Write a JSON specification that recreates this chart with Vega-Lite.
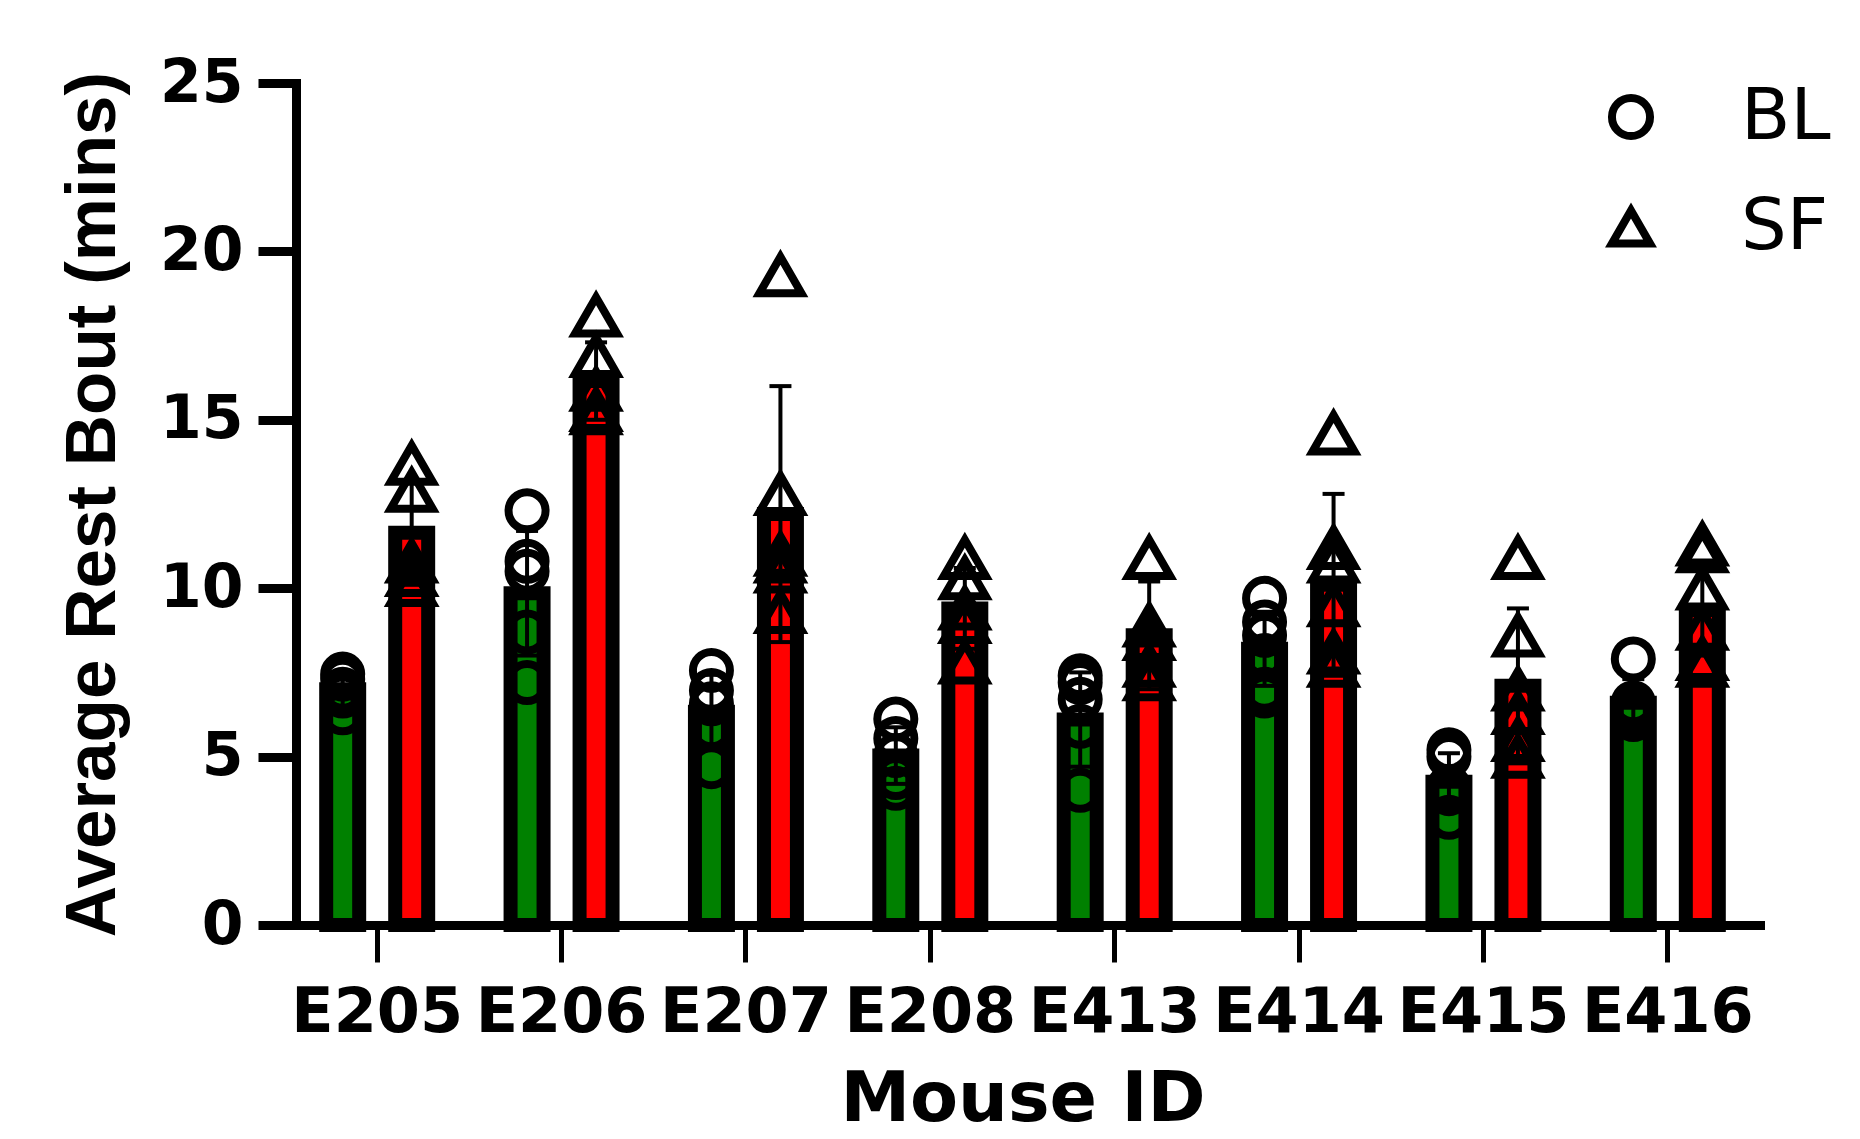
{
  "$schema": "https://vega.github.io/schema/vega-lite/v6.json",
  "autosize": {"type": "none"},
  "width": 1475,
  "height": 842,
  "padding": {"left": 285, "top": 83, "right": 100, "bottom": 214},
  "background": "white",
  "config": {"view": {"stroke": null}, "font": "DejaVu Sans"},
  "datasets": {
    "summary": [
      {"mouse": "E205", "cond": "BL", "mean": 7.0, "lower": 6.5, "upper": 7.5},
      {"mouse": "E205", "cond": "SF", "mean": 11.65, "lower": 10.1, "upper": 13.2},
      {"mouse": "E206", "cond": "BL", "mean": 9.85, "lower": 8.0, "upper": 11.7},
      {"mouse": "E206", "cond": "SF", "mean": 16.15, "lower": 15.0, "upper": 17.3},
      {"mouse": "E207", "cond": "BL", "mean": 6.33, "lower": 5.23, "upper": 7.43},
      {"mouse": "E207", "cond": "SF", "mean": 12.2, "lower": 8.4, "upper": 16.0},
      {"mouse": "E208", "cond": "BL", "mean": 5.03, "lower": 4.19, "upper": 5.87},
      {"mouse": "E208", "cond": "SF", "mean": 9.4, "lower": 8.2, "upper": 10.6},
      {"mouse": "E413", "cond": "BL", "mean": 6.1, "lower": 4.7, "upper": 7.5},
      {"mouse": "E413", "cond": "SF", "mean": 8.6, "lower": 7.0, "upper": 10.2},
      {"mouse": "E414", "cond": "BL", "mean": 8.2, "lower": 7.1, "upper": 9.3},
      {"mouse": "E414", "cond": "SF", "mean": 10.1, "lower": 7.4, "upper": 12.8},
      {"mouse": "E415", "cond": "BL", "mean": 4.25, "lower": 3.4, "upper": 5.1},
      {"mouse": "E415", "cond": "SF", "mean": 7.1, "lower": 4.8, "upper": 9.4},
      {"mouse": "E416", "cond": "BL", "mean": 6.6, "lower": 5.9, "upper": 7.3},
      {"mouse": "E416", "cond": "SF", "mean": 9.35, "lower": 8.0, "upper": 10.7}
    ],
    "points": [
      {"mouse": "E205", "cond": "BL", "value": 7.45},
      {"mouse": "E205", "cond": "BL", "value": 7.3},
      {"mouse": "E205", "cond": "BL", "value": 7.0},
      {"mouse": "E205", "cond": "BL", "value": 6.8},
      {"mouse": "E205", "cond": "BL", "value": 6.3},
      {"mouse": "E205", "cond": "SF", "value": 13.7},
      {"mouse": "E205", "cond": "SF", "value": 12.9},
      {"mouse": "E205", "cond": "SF", "value": 10.8},
      {"mouse": "E205", "cond": "SF", "value": 10.4},
      {"mouse": "E205", "cond": "SF", "value": 10.1},
      {"mouse": "E206", "cond": "BL", "value": 12.3},
      {"mouse": "E206", "cond": "BL", "value": 10.8},
      {"mouse": "E206", "cond": "BL", "value": 10.5},
      {"mouse": "E206", "cond": "BL", "value": 8.7},
      {"mouse": "E206", "cond": "BL", "value": 7.2},
      {"mouse": "E206", "cond": "SF", "value": 18.1},
      {"mouse": "E206", "cond": "SF", "value": 16.9},
      {"mouse": "E206", "cond": "SF", "value": 15.9},
      {"mouse": "E206", "cond": "SF", "value": 15.3},
      {"mouse": "E206", "cond": "SF", "value": 15.2},
      {"mouse": "E207", "cond": "BL", "value": 7.56},
      {"mouse": "E207", "cond": "BL", "value": 6.96},
      {"mouse": "E207", "cond": "BL", "value": 6.57},
      {"mouse": "E207", "cond": "BL", "value": 5.86},
      {"mouse": "E207", "cond": "BL", "value": 4.7},
      {"mouse": "E207", "cond": "SF", "value": 19.3},
      {"mouse": "E207", "cond": "SF", "value": 12.8},
      {"mouse": "E207", "cond": "SF", "value": 11.0},
      {"mouse": "E207", "cond": "SF", "value": 10.8},
      {"mouse": "E207", "cond": "SF", "value": 10.5},
      {"mouse": "E207", "cond": "SF", "value": 9.3},
      {"mouse": "E208", "cond": "BL", "value": 6.12},
      {"mouse": "E208", "cond": "BL", "value": 5.54},
      {"mouse": "E208", "cond": "BL", "value": 5.03},
      {"mouse": "E208", "cond": "BL", "value": 4.38},
      {"mouse": "E208", "cond": "BL", "value": 4.06},
      {"mouse": "E208", "cond": "SF", "value": 10.9},
      {"mouse": "E208", "cond": "SF", "value": 10.3},
      {"mouse": "E208", "cond": "SF", "value": 9.4},
      {"mouse": "E208", "cond": "SF", "value": 9.0},
      {"mouse": "E208", "cond": "SF", "value": 7.8},
      {"mouse": "E413", "cond": "BL", "value": 7.4},
      {"mouse": "E413", "cond": "BL", "value": 7.2},
      {"mouse": "E413", "cond": "BL", "value": 6.7},
      {"mouse": "E413", "cond": "BL", "value": 5.9},
      {"mouse": "E413", "cond": "BL", "value": 4.0},
      {"mouse": "E413", "cond": "SF", "value": 10.9},
      {"mouse": "E413", "cond": "SF", "value": 8.9},
      {"mouse": "E413", "cond": "SF", "value": 8.5},
      {"mouse": "E413", "cond": "SF", "value": 7.7},
      {"mouse": "E413", "cond": "SF", "value": 7.3},
      {"mouse": "E414", "cond": "BL", "value": 9.7},
      {"mouse": "E414", "cond": "BL", "value": 9.0},
      {"mouse": "E414", "cond": "BL", "value": 8.6},
      {"mouse": "E414", "cond": "BL", "value": 8.0},
      {"mouse": "E414", "cond": "BL", "value": 7.0},
      {"mouse": "E414", "cond": "BL", "value": 6.8},
      {"mouse": "E414", "cond": "SF", "value": 14.6},
      {"mouse": "E414", "cond": "SF", "value": 11.2},
      {"mouse": "E414", "cond": "SF", "value": 10.8},
      {"mouse": "E414", "cond": "SF", "value": 9.5},
      {"mouse": "E414", "cond": "SF", "value": 8.1},
      {"mouse": "E414", "cond": "SF", "value": 7.7},
      {"mouse": "E415", "cond": "BL", "value": 5.2},
      {"mouse": "E415", "cond": "BL", "value": 5.0},
      {"mouse": "E415", "cond": "BL", "value": 4.1},
      {"mouse": "E415", "cond": "BL", "value": 3.9},
      {"mouse": "E415", "cond": "BL", "value": 3.2},
      {"mouse": "E415", "cond": "SF", "value": 10.9},
      {"mouse": "E415", "cond": "SF", "value": 8.6},
      {"mouse": "E415", "cond": "SF", "value": 7.0},
      {"mouse": "E415", "cond": "SF", "value": 6.3},
      {"mouse": "E415", "cond": "SF", "value": 5.5},
      {"mouse": "E415", "cond": "SF", "value": 5.0},
      {"mouse": "E416", "cond": "BL", "value": 7.9},
      {"mouse": "E416", "cond": "BL", "value": 6.6},
      {"mouse": "E416", "cond": "BL", "value": 6.4},
      {"mouse": "E416", "cond": "BL", "value": 6.25},
      {"mouse": "E416", "cond": "BL", "value": 6.1},
      {"mouse": "E416", "cond": "SF", "value": 11.3},
      {"mouse": "E416", "cond": "SF", "value": 11.1},
      {"mouse": "E416", "cond": "SF", "value": 10.0},
      {"mouse": "E416", "cond": "SF", "value": 8.8},
      {"mouse": "E416", "cond": "SF", "value": 7.9},
      {"mouse": "E416", "cond": "SF", "value": 7.7}
    ]
  },
  "encoding": {
    "x": {
      "field": "mouse",
      "type": "nominal",
      "scale": {"paddingInner": 0, "paddingOuter": 0},
      "axis": {
        "title": "Mouse ID",
        "titleFont": "DejaVu Sans",
        "titleFontSize": 70,
        "titleFontWeight": "bold",
        "titleColor": "black",
        "titlePadding": 22,
        "labelFont": "DejaVu Sans",
        "labelFontSize": 62,
        "labelFontWeight": "bold",
        "labelColor": "black",
        "labelAngle": 0,
        "labelPadding": 20,
        "labelOverlap": false,
        "labelBound": false,
        "tickSize": 37,
        "tickWidth": 5,
        "tickColor": "black",
        "domainColor": "black",
        "domainWidth": 9,
        "domainCap": "square",
        "grid": false
      }
    },
    "xOffset": {
      "field": "cond",
      "type": "nominal",
      "scale": {"domain": ["BL", "SF"], "paddingInner": 0.522, "paddingOuter": 0.597}
    }
  },
  "layer": [
    {
      "data": {"name": "summary"},
      "mark": {"type": "bar", "stroke": "black", "strokeWidth": 14},
      "encoding": {
        "y": {
          "field": "mean",
          "type": "quantitative",
          "scale": {"domain": [0, 25], "nice": false},
          "axis": {
            "values": [0, 5, 10, 15, 20, 25],
            "offset": -11,
            "title": "Average Rest Bout (mins)",
            "titleFont": "Liberation Sans",
            "titleFontSize": 71,
            "titleFontWeight": "bold",
            "titleColor": "black",
            "titlePadding": 30,
            "labelFont": "DejaVu Sans",
            "labelFontSize": 60,
            "labelFontWeight": "bold",
            "labelColor": "black",
            "labelPadding": 15,
            "labelFlush": false,
            "labelOverlap": false,
            "tickSize": 38,
            "tickWidth": 9,
            "tickColor": "black",
            "domainColor": "black",
            "domainWidth": 9,
            "domainCap": "square",
            "grid": false
          }
        },
        "fill": {
          "field": "cond",
          "type": "nominal",
          "scale": {"domain": ["BL", "SF"], "range": ["#008000", "#ff0000"]},
          "legend": null
        }
      }
    },
    {
      "data": {"name": "summary"},
      "mark": {"type": "rule", "color": "black", "strokeWidth": 4},
      "encoding": {
        "y": {"field": "lower", "type": "quantitative"},
        "y2": {"field": "upper"}
      }
    },
    {
      "data": {"name": "summary"},
      "mark": {"type": "tick", "color": "black", "thickness": 4, "size": 22, "opacity": 1},
      "encoding": {"y": {"field": "upper", "type": "quantitative"}}
    },
    {
      "data": {"name": "summary"},
      "mark": {"type": "tick", "color": "black", "thickness": 4, "size": 22, "opacity": 1},
      "encoding": {"y": {"field": "lower", "type": "quantitative"}}
    },
    {
      "data": {"name": "points"},
      "transform": [{"filter": "datum.cond === 'BL'"}],
      "mark": {"type": "point", "filled": false, "color": "black", "strokeWidth": 8, "opacity": 1, "size": 1369},
      "encoding": {
        "y": {"field": "value", "type": "quantitative"},
        "shape": {
          "field": "cond",
          "type": "nominal",
          "scale": {"range": ["circle", "triangle-up"]},
          "legend": {
            "title": null,
            "orient": "none",
            "legendX": 1310,
            "legendY": -2,
            "padding": 0,
            "symbolSize": 1450,
            "symbolStrokeWidth": 8,
            "symbolStrokeColor": "black",
            "symbolFillColor": "transparent",
            "labelFont": "DejaVu Sans",
            "labelFontSize": 72,
            "labelFontWeight": "normal",
            "labelColor": "black",
            "labelOffset": 74,
            "rowPadding": 38
          }
        }
      }
    },
    {
      "data": {"name": "points"},
      "transform": [{"filter": "datum.cond === 'SF'"}],
      "mark": {"type": "point", "filled": false, "color": "black", "strokeWidth": 8, "opacity": 1, "size": 1764},
      "encoding": {
        "y": {"field": "value", "type": "quantitative"},
        "shape": {
          "field": "cond",
          "type": "nominal",
          "scale": {"range": ["circle", "triangle-up"]}
        }
      }
    }
  ]
}
